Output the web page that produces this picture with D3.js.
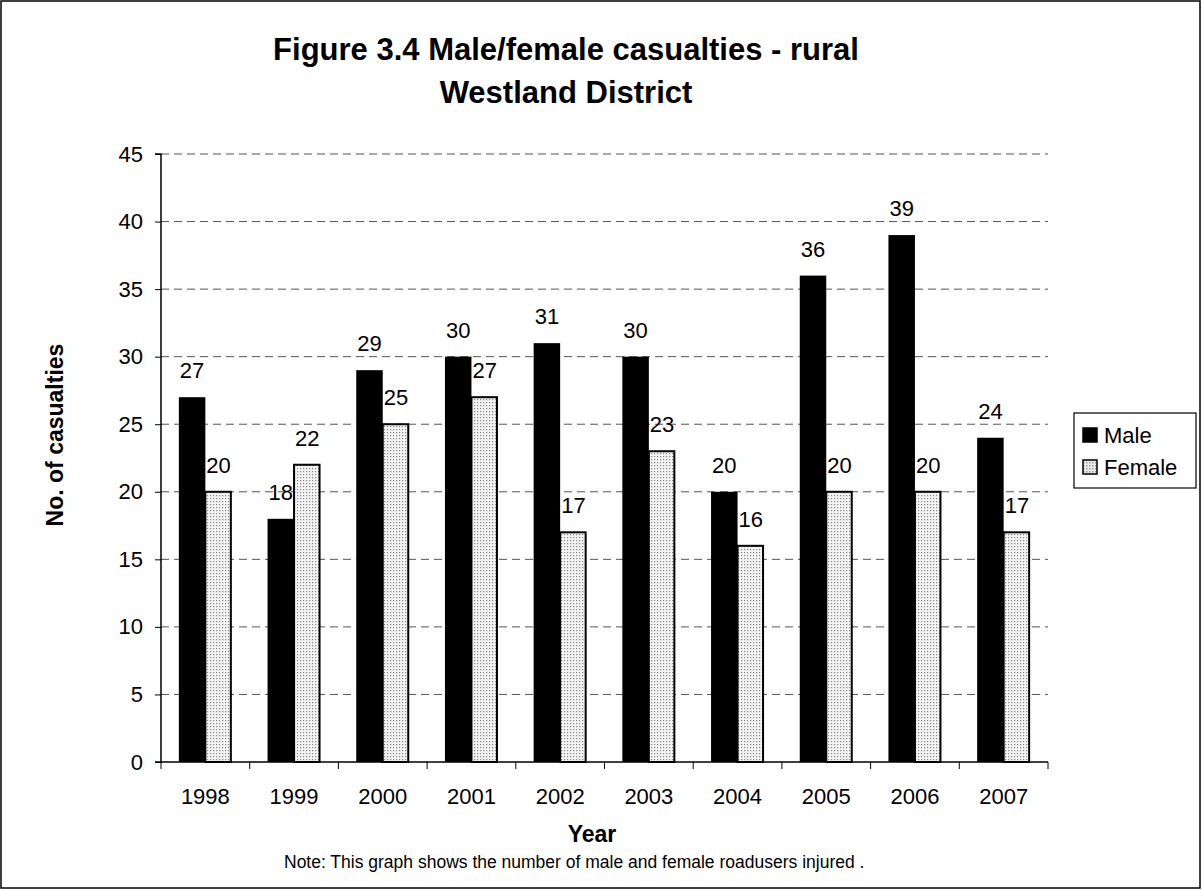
<!DOCTYPE html>
<html><head><meta charset="utf-8">
<script src="https://cdn.jsdelivr.net/npm/d3@7"></script>
<style>body{margin:0;background:#fff}svg{display:block;font-family:Arial,"Liberation Sans",sans-serif}</style>
</head><body>
<script>
const years = ["1998","1999","2000","2001","2002","2003","2004","2005","2006","2007"];
const male = [27,18,29,30,31,30,20,36,39,24];
const female = [20,22,25,27,17,23,16,20,20,17];
const yTicks = [0,5,10,15,20,25,30,35,40,45];
const seriesNames = ["Male","Female"];

const W=1202,H=890;
const FF="Arial,'Liberation Sans',sans-serif";
const svg=d3.select("body").append("svg").attr("width",W).attr("height",H);
const defs=svg.append("defs");
const pat=defs.append("pattern").attr("id","dots").attr("patternUnits","userSpaceOnUse").attr("width",3).attr("height",3);
pat.append("rect").attr("width",3).attr("height",3).attr("fill","#f4f4f4");
pat.append("rect").attr("x",0).attr("y",0).attr("width",1.2).attr("height",1.2).attr("fill","#888");
const pat2=defs.append("pattern").attr("id","check").attr("patternUnits","userSpaceOnUse").attr("width",3).attr("height",3);
pat2.append("rect").attr("width",3).attr("height",3).attr("fill","#eee");
pat2.append("rect").attr("x",0).attr("y",0).attr("width",1.5).attr("height",1.5).attr("fill","#999");

svg.append("rect").attr("x",1).attr("y",1).attr("width",W-3).attr("height",H-3).attr("fill","#fff").attr("stroke","#000").attr("stroke-width",1.5);

const L=161,R=1048,T=154,B=762;
const x=d3.scaleBand().domain(years).range([L,R]).paddingInner(0).paddingOuter(0);
const y=d3.scaleLinear().domain([0,45]).range([B,T]);
const bw=26.5;

// gridlines
svg.append("g").selectAll("line").data(yTicks.filter(d=>d>0)).join("line")
 .attr("x1",L).attr("x2",R).attr("y1",d=>y(d)).attr("y2",d=>y(d))
 .attr("stroke","#555").attr("stroke-width",1).attr("stroke-dasharray","8,5");

// bars
const g=svg.append("g");
years.forEach((yr,i)=>{
  const cx=x(yr)+x.bandwidth()/2;
  g.append("rect").attr("x",cx-bw).attr("y",y(male[i])).attr("width",bw).attr("height",B-y(male[i]))
   .attr("fill","#000");
  g.append("rect").attr("x",cx).attr("y",y(female[i])).attr("width",bw-1).attr("height",B-y(female[i]))
   .attr("fill","url(#dots)").attr("stroke","#000").attr("stroke-width",2);
  g.append("text").attr("x",cx-bw/2).attr("y",y(male[i])-19).attr("text-anchor","middle")
   .attr("font-size",22).text(male[i]);
  g.append("text").attr("x",cx+bw/2).attr("y",y(female[i])-19).attr("text-anchor","middle")
   .attr("font-size",22).text(female[i]);
});

// y axis
const ya=d3.axisLeft(y).tickValues(yTicks).tickSize(6).tickPadding(12);
const yg=svg.append("g").attr("transform",`translate(${L},0)`).call(ya);
yg.select(".domain").attr("stroke","#000").attr("stroke-width",1.5).attr("d",`M-6,${B}H0V${T}H-6`);
yg.selectAll("text").attr("font-size",22).attr("font-family",FF).attr("fill","#000");
yg.selectAll(".tick line").attr("stroke","#000");

// x axis
const xa=d3.axisBottom(x).tickSize(0).tickPadding(26);
const xg=svg.append("g").attr("transform",`translate(0,${B})`).call(xa);
xg.select(".domain").attr("stroke","#000").attr("stroke-width",1.5).attr("d",`M${L},0H${R}`);
xg.selectAll("text").attr("font-size",22).attr("font-family",FF).attr("fill","#000").attr("dy","0.71em");
svg.append("g").selectAll("line").data(years.concat(["end"])).join("line")
 .attr("x1",(d,i)=>L+i*x.bandwidth()).attr("x2",(d,i)=>L+i*x.bandwidth())
 .attr("y1",B).attr("y2",B+7).attr("stroke","#000").attr("stroke-width",1);

// titles
svg.append("text").attr("x",566).attr("y",60).attr("text-anchor","middle").attr("font-size",31).attr("font-weight","bold").text("Figure 3.4 Male/female casualties - rural");
svg.append("text").attr("x",566).attr("y",103).attr("text-anchor","middle").attr("font-size",31).attr("font-weight","bold").text("Westland District");
svg.append("text").attr("transform","translate(63,435) rotate(-90)").attr("text-anchor","middle").attr("font-size",23).attr("font-weight","bold").text("No. of casualties");
svg.append("text").attr("x",592).attr("y",842).attr("text-anchor","middle").attr("font-size",23).attr("font-weight","bold").text("Year");
svg.append("text").attr("x",284).attr("y",868).attr("text-anchor","start").attr("font-size",17.5).text("Note: This graph shows the number of male and female roadusers injured .");

// legend
const lg=svg.append("g");
lg.append("rect").attr("x",1074).attr("y",413).attr("width",122).attr("height",75).attr("fill","#fff").attr("stroke","#000").attr("stroke-width",1.2);
const fills=["#000","url(#check)"];
seriesNames.forEach((s,i)=>{
  const yy=435+i*32;
  lg.append("rect").attr("x",1083).attr("y",yy-7).attr("width",14).attr("height",14).attr("fill",fills[i]).attr("stroke","#000").attr("stroke-width",1.5);
  lg.append("text").attr("x",1104).attr("y",yy+8).attr("font-size",22).text(s);
});
</script>
</body></html>
